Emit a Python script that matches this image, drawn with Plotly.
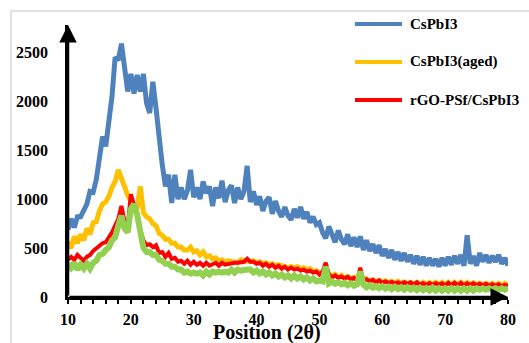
import numpy as np
import plotly.graph_objects as go

# 2-theta scan positions (deg), 0.5 deg step
two_theta = np.round(np.arange(10, 80.01, 0.5), 2)

cspbi3 = [
    690, 800, 710, 820, 820, 900, 950, 1080, 1070, 1200,
    1450, 1640, 1540, 1820, 2050, 2450, 2420, 2590, 2330, 2100,
    2280, 2080, 2270, 2100, 2280, 1980, 1880, 2200, 1930, 1600,
    1350, 1130, 1250, 960, 1250, 1000, 1120, 1000, 1090, 1300,
    1020, 1120, 1000, 1180, 1060, 1130, 930, 1120, 1010, 1190,
    970, 1090, 1140, 960, 1120, 1000, 1080, 1340, 970, 1080,
    940, 1030, 880, 980, 1020, 850, 980, 880, 820, 920,
    830, 790, 900, 810, 920, 800, 870, 760, 820, 740,
    760, 660, 600, 720, 630, 560, 680, 590, 540, 640,
    520, 610, 510, 620, 480, 580, 470, 540, 450, 530,
    420, 490, 400, 480, 380, 460, 370, 450, 360, 430,
    340, 420, 330, 410, 320, 400, 320, 390, 310, 400,
    320, 410, 330, 420, 340, 430, 320, 630, 340, 420,
    320, 450, 360, 430, 350, 420, 360, 430, 340, 400,
    320,
]

cspbi3_aged = [
    560, 500, 620, 550, 640, 580, 700, 640, 760, 770,
    880, 950, 970, 1030, 1120, 1180, 1300, 1200, 1100, 1040,
    980, 940, 900, 1130, 860, 820, 800, 750, 730, 650,
    630, 590, 590, 550, 550, 510, 510, 480, 480, 510,
    460, 470, 430, 460, 410, 420, 390, 400, 370, 380,
    360, 370, 360, 360, 350, 380, 370, 370, 360, 370,
    350, 360, 340, 350, 330, 340, 320, 330, 320, 320,
    300, 310, 300, 310, 290, 300, 280, 290, 260, 270,
    240, 250, 220, 240, 210, 230, 200, 220, 190, 210,
    185, 200, 175, 190, 165, 185, 160, 175, 155, 170,
    150, 165, 145, 160, 140, 160, 135, 155, 135, 150,
    130, 150, 125, 150, 125, 150, 125, 150, 125, 150,
    125, 150, 125, 150, 125, 150, 125, 150, 125, 145,
    125, 140, 125, 140, 120, 140, 115, 140, 115, 140,
    120,
]

rgo_psf_cspbi3 = [
    380, 410, 380, 430, 400, 370, 410, 430, 470, 500,
    520, 550, 560, 610, 660, 730, 800, 930, 770, 720,
    1050, 940, 860, 680, 580, 530, 540, 510, 530, 450,
    460, 410, 450, 390, 400, 360, 370, 340, 370, 330,
    360, 330, 350, 320, 350, 320, 330, 350, 320, 350,
    330, 340, 340, 350, 350, 360, 360, 390, 360, 360,
    340, 350, 320, 340, 310, 330, 300, 320, 290, 310,
    280, 300, 280, 290, 270, 280, 260, 270, 250, 260,
    230, 260, 350, 230, 200, 220, 195, 210, 190, 205,
    180, 195, 170, 300, 165, 180, 160, 175, 150, 170,
    145, 160, 145, 155, 140, 150, 135, 150, 135, 150,
    125, 150, 125, 140, 125, 140, 125, 140, 125, 140,
    120, 145, 120, 145, 120, 145, 120, 140, 125, 140,
    120, 135, 120, 135, 115, 130, 115, 130, 110, 125,
    115,
]

green_series = [
    340, 300, 350, 280, 330, 290, 340, 290, 350, 370,
    430, 440, 480, 510, 580, 610, 730, 830, 700, 660,
    900, 950, 840, 620, 500, 460, 460, 430, 430, 380,
    370, 340, 340, 310, 310, 280, 280, 250, 260, 240,
    250, 240, 250, 220, 260, 230, 260, 250, 260, 250,
    260, 250, 280, 250, 280, 270, 280, 280, 280, 250,
    270, 240, 260, 230, 250, 220, 240, 210, 230, 200,
    220, 190, 220, 190, 210, 180, 200, 170, 190, 160,
    170, 160, 310, 140, 160, 135, 150, 130, 145, 120,
    140, 115, 130, 260, 125, 100, 120, 95, 110, 90,
    110, 85, 105, 80, 105, 80, 100, 75, 100, 75,
    95, 70, 95, 70, 90, 65, 95, 65, 90, 65,
    90, 65, 90, 65, 90, 65, 90, 65, 90, 65,
    90, 75, 90, 75, 90, 75, 90, 75, 90, 75,
    90,
]

series_names = ["CsPbI3", "CsPbI3(aged)", "rGO-PSf/CsPbI3"]
colors = ["#4F81BD", "#FFC000", "#FF0000", "#92D050"]
x_ticks = [10, 20, 30, 40, 50, 60, 70, 80]
y_ticks = [0, 500, 1000, 1500, 2000, 2500]

FONT = "Liberation Serif"
W, H = 529, 343
ML, MR, MT, MB = 68, 21, 25, 46
PW, PH = W - ML - MR, H - MT - MB


def px(xp):
    return (xp - ML) / PW


def py(yp):
    return (H - MB - yp) / PH


fig = go.Figure()
all_series = [cspbi3, cspbi3_aged, rgo_psf_cspbi3, green_series]
widths = [5, 5, 4, 6]
for vals, col, w in zip(all_series, colors, widths):
    fig.add_trace(go.Scatter(x=two_theta, y=vals, mode="lines",
                             line=dict(color=col, width=w),
                             showlegend=False, hoverinfo="skip"))

ann = []
# axis arrows
ann.append(dict(x=80, y=0, ax=10, ay=0, xref="x", yref="y", axref="x", ayref="y",
                text="", showarrow=True, arrowhead=2, arrowsize=1.4,
                arrowwidth=2.5, arrowcolor="black"))
ann.append(dict(x=10, y=2780, ax=10, ay=0, xref="x", yref="y", axref="x", ayref="y",
                text="", showarrow=True, arrowhead=2, arrowsize=1.4,
                arrowwidth=2.5, arrowcolor="black"))
# axis title
ann.append(dict(x=px(267), y=py(332), xref="paper", yref="paper",
                text="Position (2θ)", showarrow=False, xanchor="center",
                yanchor="middle",
                font=dict(family=FONT, size=20, color="black", weight="bold")))

shapes = []
# outer light border
shapes.append(dict(type="rect", xref="paper", yref="paper",
                   x0=px(11), x1=px(560), y0=py(11), y1=py(380),
                   line=dict(color="#D9D9D9", width=1.5), layer="below"))
# manual legend
leg_y = [24, 62, 100]
for name, col, yy in zip(series_names, colors[:3], leg_y):
    shapes.append(dict(type="line", xref="paper", yref="paper",
                       x0=px(355), x1=px(402), y0=py(yy), y1=py(yy),
                       line=dict(color=col, width=4)))
    ann.append(dict(x=px(408), y=py(yy), xref="paper", yref="paper",
                    text=name, showarrow=False, xanchor="left", yanchor="middle",
                    font=dict(family=FONT, size=15, color="black", weight="bold")))

fig.update_layout(
    width=W, height=H,
    margin=dict(l=ML, r=MR, t=MT, b=MB),
    paper_bgcolor="white", plot_bgcolor="white",
    annotations=ann, shapes=shapes,
    showlegend=False,
)
fig.update_xaxes(range=[10, 80], tickvals=x_ticks, showgrid=False, zeroline=False,
                 showline=True, linecolor="black", linewidth=2.5,
                 ticks="outside", ticklen=4, tickwidth=2, tickcolor="black",
                 minor=dict(dtick=2, ticks="outside", ticklen=4, tickwidth=2,
                            tickcolor="black", showgrid=False),
                 ticklabelstandoff=2,
                 tickfont=dict(family=FONT, size=16, color="black", weight="bold"))
fig.update_yaxes(range=[0, 2780], tickvals=y_ticks, showgrid=False, zeroline=False,
                 showline=True, linecolor="black", linewidth=2.5,
                 ticks="", ticklabelstandoff=14,
                 tickfont=dict(family=FONT, size=16, color="black", weight="bold"))

fig.write_html("out.html")
